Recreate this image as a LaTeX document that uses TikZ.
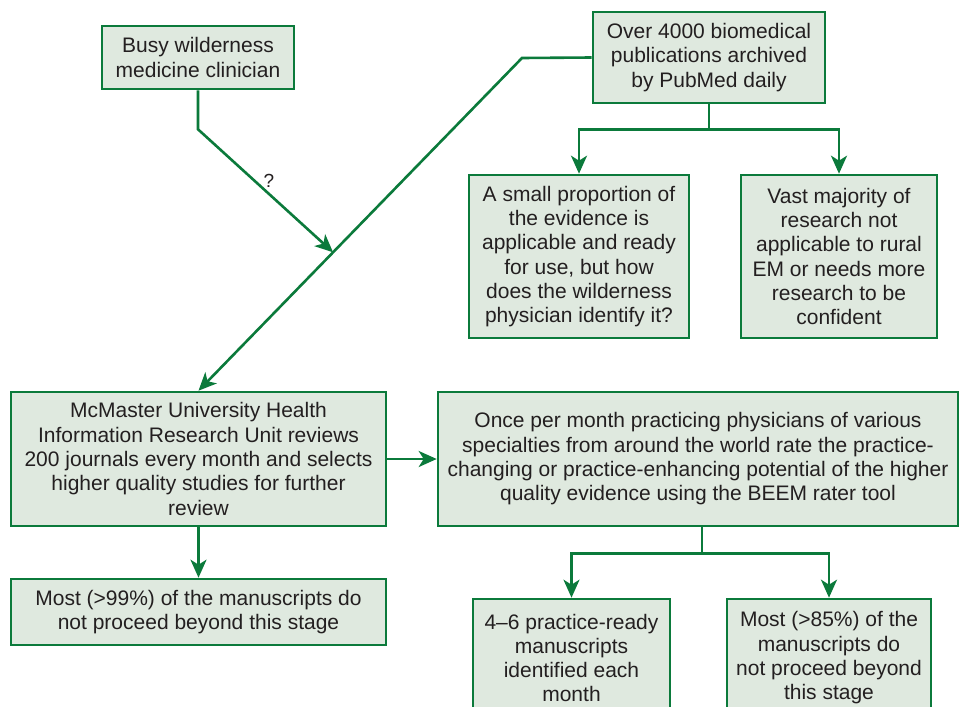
\documentclass[tikz,border=0pt]{standalone}
\usepackage{fontspec}
\setmainfont{Liberation Sans}
\usetikzlibrary{arrows.meta,calc}
\definecolor{flowgreen}{HTML}{0B7A3B}
\definecolor{flowfill}{HTML}{DFE9DF}
\definecolor{flowtext}{HTML}{231F20}
\begin{document}
\begin{tikzpicture}[x=1pt,y=-1pt,
  box/.style={draw=flowgreen,fill=flowfill,line width=2.6pt,rectangle,
    align=center,inner sep=0pt,text=flowtext,
    font=\fontsize{21}{24.3}\selectfont},
  link/.style={draw=flowgreen,line width=2.6pt},
  arr/.style={link,-{Stealth[length=18pt,width=16pt,inset=5pt]}}]
\useasboundingbox (0,0) rectangle (959,707);
\clip (0,0) rectangle (959,707);
\fill[white] (0,0) rectangle (959,707);

% top row
\node[box,minimum width=192,minimum height=63] (busy) at (198,57.5)
  {Busy wilderness\\medicine clinician};
\node[box,minimum width=232,minimum height=91] (pub) at (709,57.5)
  {Over 4000 biomedical\\publications archived\\by PubMed daily};

% second row
\node[box,minimum width=220,minimum height=163] (small) at (579,256.5)
  {A small proportion of\\the evidence is\\applicable and ready\\for use, but how\\does the wilderness\\physician identify it?};
\node[box,minimum width=196,minimum height=163] (vast) at (839,256.5)
  {Vast majority of\\research not\\applicable to rural\\EM or needs more\\research to be\\confident};

% third row
\node[box,minimum width=375,minimum height=134] (mcm) at (198.5,459)
  {McMaster University Health\\Information Research Unit reviews\\200 journals every month and selects\\higher quality studies for further\\review};
\node[box,minimum width=520,minimum height=134] (once) at (698,459)
  {Once per month practicing physicians of various\\specialties from around the world rate the practice-\\changing or practice-enhancing potential of the higher\\quality evidence using the BEEM rater tool};

% bottom row
\node[box,minimum width=375,minimum height=66] (most99) at (198.5,612)
  {Most (>99\%) of the manuscripts do\\not proceed beyond this stage};
\node[box,minimum width=197,minimum height=118] (ready) at (571.5,658)
  {4–6 practice-ready\\manuscripts\\identified each\\month};
\node[box,minimum width=204,minimum height=118] (most85) at (829,658)
  {Most (>85\%) of the\\manuscripts do\\not proceed beyond\\this stage};

% PubMed feed down to McMaster, with the clinician joining it
\coordinate (kink) at (522,58);
\coordinate (join) at ($(kink)!0.584!(mcm.north)$);
\draw[arr] (pub.west) -- (kink) -- (mcm.north);
\draw[arr] (busy.south) -- ++(0,39) -- (join);
\node[text=flowtext,font=\fontsize{19}{22}\selectfont] (q) at (269,181) {?};

% PubMed split
\draw[arr] (pub.south) -- ++(0,25) -| (small.north);
\draw[arr] (pub.south) -- ++(0,25) -| (vast.north);

% McMaster outputs
\draw[arr] (mcm.east) -- (once.west);
\draw[arr] (mcm.south) -- (most99.north);

% rating split
\coordinate (split) at ($(once.south)+(4,0)$);
\draw[arr] (split) -- ++(0,26) -| (ready.north);
\draw[arr] (split) -- ++(0,26) -| (most85.north);
\end{tikzpicture}
\end{document}
